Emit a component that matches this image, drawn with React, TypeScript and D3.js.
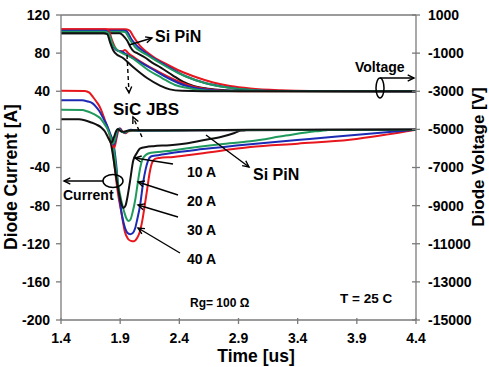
import React from "react";
import * as d3 from "d3";

type P = [number, number];

const TIME_TICKS = [1.4, 1.9, 2.4, 2.9, 3.4, 3.9, 4.4];
const CURRENT_TICKS = [120, 80, 40, 0, -40, -80, -120, -160, -200];
const VOLTAGE_TICKS = [1000, -1000, -3000, -5000, -7000, -9000, -11000, -13000, -15000];

const CURRENT_LEVELS = ["10 A", "20 A", "30 A", "40 A"];
const COLORS = ["#111111", "#1f9a5c", "#1c2ab4", "#e8161d"];

// SiC JBS currents [time us, current A]
const jbsI10: P[] = [[1.4,10.5],[1.55,10.5],[1.6,9.5],[1.65,7.5],[1.7,5],[1.74,2],[1.77,-2],[1.8,-9],[1.825,-14],[1.845,-9],[1.865,-2],[1.88,0.3],[1.9,-1.5],[1.93,-2.5],[1.96,-1.5],[2.0,-1],[2.5,-0.8],[3.0,-0.5],[4.4,0]];
const jbsI20: P[] = [[1.4,20.5],[1.58,20.3],[1.62,19],[1.66,17],[1.7,14.5],[1.73,12],[1.76,7],[1.79,1],[1.82,-8],[1.84,-15],[1.86,-9],[1.875,-1],[1.89,0.5],[1.91,-2.5],[1.94,-3],[1.97,-1.5],[2.05,-1.2],[2.5,-1],[4.4,-0.3]];
const jbsI30: P[] = [[1.4,30.5],[1.58,30.5],[1.62,29.5],[1.67,27],[1.7,23],[1.73,18],[1.76,11],[1.79,4],[1.82,-6],[1.845,-16],[1.865,-9],[1.88,-1],[1.895,0.8],[1.915,-2.5],[1.94,-3.5],[1.965,-1.5],[1.99,-0.5],[2.05,-1.5],[2.5,-1],[4.4,-0.3]];
const jbsI40: P[] = [[1.4,40.4],[1.6,40.3],[1.64,38.5],[1.67,34],[1.7,29],[1.73,23],[1.77,10],[1.8,-1],[1.83,-14],[1.85,-19],[1.87,-9],[1.885,-1],[1.9,0.8],[1.92,-2.5],[1.945,-4],[1.97,-2],[2.0,-1.5],[2.5,-1],[4.4,-0.3]];

// Si PiN currents (continuing from the shared turn-off edge)
const pinI10: P[] = [[1.8,-9],[1.82,-14],[1.84,-28],[1.86,-45],[1.88,-60],[1.9,-73],[1.915,-80],[1.927,-82.5],[1.945,-80],[1.96,-72],[1.985,-53],[2.01,-33],[2.04,-25],[2.07,-20],[2.12,-18.5],[2.18,-17.6],[2.32,-16.6],[2.47,-14.5],[2.6,-11.3],[2.75,-8],[2.86,-4],[2.92,-1.2],[2.96,-0.8]];
const pinI20: P[] = [[1.82,-8],[1.84,-15],[1.86,-35],[1.88,-55],[1.91,-75],[1.935,-87],[1.955,-94],[1.97,-96],[1.985,-95],[2.005,-87],[2.03,-72],[2.05,-55],[2.07,-40],[2.09,-31],[2.12,-26.5],[2.16,-24.5],[2.3,-22.8],[2.47,-19.7],[2.75,-15.5],[3.0,-12.5],[3.3,-6.5],[3.55,-2],[3.65,-0.8]];
const pinI30: P[] = [[1.82,-6],[1.845,-16],[1.865,-35],[1.885,-62],[1.9,-78],[1.92,-93],[1.94,-103],[1.96,-108.5],[1.984,-110],[2.005,-109],[2.026,-104],[2.045,-94],[2.068,-80],[2.094,-56],[2.115,-42],[2.135,-33],[2.16,-28.5],[2.2,-27.5],[2.32,-25],[2.6,-20.7],[3.0,-15.5],[3.5,-10],[3.93,-5.5],[4.4,-0.3]];
const pinI40: P[] = [[1.83,-14],[1.845,-30],[1.865,-52],[1.885,-70],[1.907,-85],[1.925,-98],[1.941,-108],[1.967,-115],[1.99,-117],[2.015,-117.5],[2.043,-114],[2.065,-108],[2.085,-97],[2.105,-82],[2.128,-63],[2.15,-45],[2.17,-35],[2.195,-31],[2.23,-30],[2.35,-29],[2.6,-25],[3.0,-18.5],[3.4,-15],[3.84,-11],[4.15,-5.5],[4.4,-0.3]];

// SiC JBS voltages [time us, voltage V]
const jbsV10: P[] = [[1.4,40],[1.76,40],[1.79,0],[1.814,-420],[1.84,-840],[1.857,-990],[1.924,-1256],[2.009,-1728],[2.127,-2305],[2.237,-2700],[2.32,-2900],[2.42,-2980],[2.6,-3000],[4.4,-3000]];
const jbsV20: P[] = [[1.4,124],[1.77,124],[1.797,80],[1.84,-574],[1.874,-836],[1.899,-941],[2.0,-1256],[2.136,-1885],[2.254,-2305],[2.364,-2672],[2.474,-2830],[2.576,-2935],[2.7,-2990],[4.4,-3000]];
const jbsV30: P[] = [[1.4,176],[1.775,176],[1.8,80],[1.825,-350],[1.85,-720],[1.88,-880],[1.915,-930],[1.95,-1050],[2.009,-1256],[2.17,-1833],[2.32,-2357],[2.45,-2700],[2.6,-2900],[2.75,-2980],[4.4,-3000]];
const jbsV40: P[] = [[1.4,250],[1.78,250],[1.805,150],[1.83,-300],[1.857,-700],[1.89,-890],[1.92,-900],[1.94,-840],[1.967,-993],[2.026,-1256],[2.195,-1885],[2.364,-2410],[2.533,-2777],[2.703,-2935],[2.83,-2987],[3.0,-3000],[4.4,-3000]];

// Si PiN voltages
const pinV10: P[] = [[1.4,40],[1.895,40],[1.915,-20],[1.935,-150],[1.96,-350],[1.985,-660],[2.01,-880],[2.05,-1020],[2.11,-1230],[2.17,-1500],[2.24,-1750],[2.34,-2150],[2.43,-2500],[2.52,-2720],[2.6,-2830],[2.7,-2910],[2.83,-2965],[3.0,-2990],[4.4,-3000]];
const pinV20: P[] = [[1.4,124],[1.925,124],[1.941,108],[1.984,-312],[2.026,-679],[2.068,-889],[2.127,-1098],[2.237,-1518],[2.39,-2043],[2.533,-2410],[2.686,-2672],[2.872,-2856],[3.041,-2945],[3.21,-2990],[4.4,-3000]];
const pinV30: P[] = [[1.4,176],[1.93,176],[1.95,161],[2.0,-312],[2.051,-679],[2.094,-889],[2.153,-1151],[2.28,-1623],[2.449,-2200],[2.618,-2567],[2.787,-2777],[2.999,-2935],[3.21,-2987],[4.4,-3000]];
const pinV40: P[] = [[1.4,250],[1.94,250],[1.958,239],[1.984,161],[2.009,-102],[2.043,-416],[2.085,-731],[2.136,-993],[2.195,-1256],[2.28,-1544],[2.407,-1938],[2.55,-2279],[2.686,-2541],[2.829,-2725],[2.999,-2856],[3.252,-2951],[3.506,-2990],[4.4,-3000]];

const jbsCurrents = [jbsI10, jbsI20, jbsI30, jbsI40];
const pinCurrents = [pinI10, pinI20, pinI30, pinI40];
const jbsVoltages = [jbsV10, jbsV20, jbsV30, jbsV40];
const pinVoltages = [pinV10, pinV20, pinV30, pinV40];

const W = 489, H = 367;
const L = 61, R = 416, T = 15, B = 320;
const FONT = "'Liberation Sans', Arial, sans-serif";

function Arrow({ x1, y1, x2, y2, dashed }: { x1: number; y1: number; x2: number; y2: number; dashed?: boolean }) {
  const a = Math.atan2(y2 - y1, x2 - x1);
  const s = 7, sp = 0.45;
  const h1 = [x2 - s * Math.cos(a - sp), y2 - s * Math.sin(a - sp)];
  const h2 = [x2 - s * Math.cos(a + sp), y2 - s * Math.sin(a + sp)];
  return (
    <g stroke="#000" strokeWidth={1.4} fill="none">
      <line x1={x1} y1={y1} x2={x2} y2={y2} strokeDasharray={dashed ? "4,3" : undefined} />
      <polyline points={`${h1[0]},${h1[1]} ${x2},${y2} ${h2[0]},${h2[1]}`} />
    </g>
  );
}

export default function App() {
  const x = d3.scaleLinear().domain([1.4, 4.4]).range([L, R]);
  const yI = d3.scaleLinear().domain([-200, 120]).range([B, T]);
  const yV = d3.scaleLinear().domain([-15000, 1000]).range([B, T]);
  const lineI = d3.line<P>().x(d => x(d[0])).y(d => yI(d[1])).curve(d3.curveMonotoneX);
  const lineV = d3.line<P>().x(d => x(d[0])).y(d => yV(d[1])).curve(d3.curveMonotoneX);
  const order = [3, 2, 1, 0];
  const axisColor = "#7a7a7a";

  return (
    <svg width={W} height={H} style={{ position: "absolute", left: 0, top: 0, background: "#fff" }} fontFamily={FONT} fontWeight="bold">
      <rect x={0} y={0} width={W} height={H} fill="#fff" />
      {/* curves */}
      <g fill="none" strokeWidth={2} strokeLinejoin="round">
        {order.map(i => <path key={"pv" + i} d={lineV(pinVoltages[i]) || ""} stroke={COLORS[i]} />)}
        {order.map(i => <path key={"jv" + i} d={lineV(jbsVoltages[i]) || ""} stroke={COLORS[i]} />)}
        {order.map(i => <path key={"pi" + i} d={lineI(pinCurrents[i]) || ""} stroke={COLORS[i]} />)}
        {order.map(i => <path key={"ji" + i} d={lineI(jbsCurrents[i]) || ""} stroke={COLORS[i]} />)}
      </g>
      {/* frame */}
      <g stroke={axisColor} strokeWidth={1.3}>
        <line x1={L} y1={T} x2={R} y2={T} />
        <line x1={L} y1={B} x2={R} y2={B} />
        <line x1={L} y1={T} x2={L} y2={B} />
        <line x1={R} y1={T} x2={R} y2={B} />
        {CURRENT_TICKS.map(v => <line key={"lt" + v} x1={L - 5} x2={L} y1={yI(v)} y2={yI(v)} />)}
        {VOLTAGE_TICKS.map(v => <line key={"rt" + v} x1={R - 4} x2={R + 4} y1={yV(v)} y2={yV(v)} />)}
        {TIME_TICKS.map(v => <line key={"bt" + v} x1={x(v)} x2={x(v)} y1={B - 2} y2={B + 4} />)}
      </g>
      <g fontSize={14} fill="#000">
        {CURRENT_TICKS.map(v => <text key={"ll" + v} x={50} y={yI(v)} dy="0.35em" textAnchor="end">{v}</text>)}
        {VOLTAGE_TICKS.map(v => <text key={"rl" + v} x={428} y={yV(v)} dy="0.35em" textAnchor="start">{v}</text>)}
        {TIME_TICKS.map(v => <text key={"bl" + v} x={x(v)} y={343} textAnchor="middle">{v.toFixed(1)}</text>)}
      </g>
      {/* axis titles */}
      <text fontSize={17.5} transform={`translate(17,177) rotate(-90)`} textAnchor="middle">Diode Current [A]</text>
      <text fontSize={17} transform={`translate(484,157) rotate(-90)`} textAnchor="middle">Diode Voltage [V]</text>
      <text fontSize={17.5} x={256} y={362} textAnchor="middle">Time [us]</text>
      {/* annotations */}
      <g fill="#000">
        <text x={155} y={42} fontSize={16}>Si PiN</text>
        <text x={113} y={115} fontSize={17}>SiC JBS</text>
        <text x={253} y={180} fontSize={16}>Si PiN</text>
        <text x={355} y={72} fontSize={14}>Voltage</text>
        <text x={63} y={200} fontSize={14}>Current</text>
        {CURRENT_LEVELS.map((s, i) => <text key={s} x={187} y={177 + i * 29} fontSize={14}>{s}</text>)}
        <text x={190} y={307} fontSize={12}>Rg= 100 Ω</text>
        <text x={340} y={303} fontSize={13.5}>T = 25 C</text>
      </g>
      <Arrow x1={129} y1={45} x2={152} y2={38} />
      <Arrow x1={127} y1={55} x2={129} y2={93} dashed />
      <Arrow x1={142} y1={137} x2={133} y2={117} dashed />
      <Arrow x1={206} y1={135} x2={249} y2={167} />
      <Arrow x1={173} y1={164} x2={135} y2={158} />
      <Arrow x1={178} y1={195} x2={138} y2={182} />
      <Arrow x1={178} y1={217} x2={138} y2={205} />
      <Arrow x1={180} y1={253} x2={138} y2={228} />
      <ellipse cx={380} cy={88} rx={4} ry={10} fill="none" stroke="#000" strokeWidth={1.5} />
      <Arrow x1={380} y1={78} x2={414} y2={78} />
      <ellipse cx={113} cy={181} rx={10} ry={6.5} fill="none" stroke="#000" strokeWidth={1.5} />
      <Arrow x1={103} y1={181} x2={64} y2={181} />
    </svg>
  );
}
